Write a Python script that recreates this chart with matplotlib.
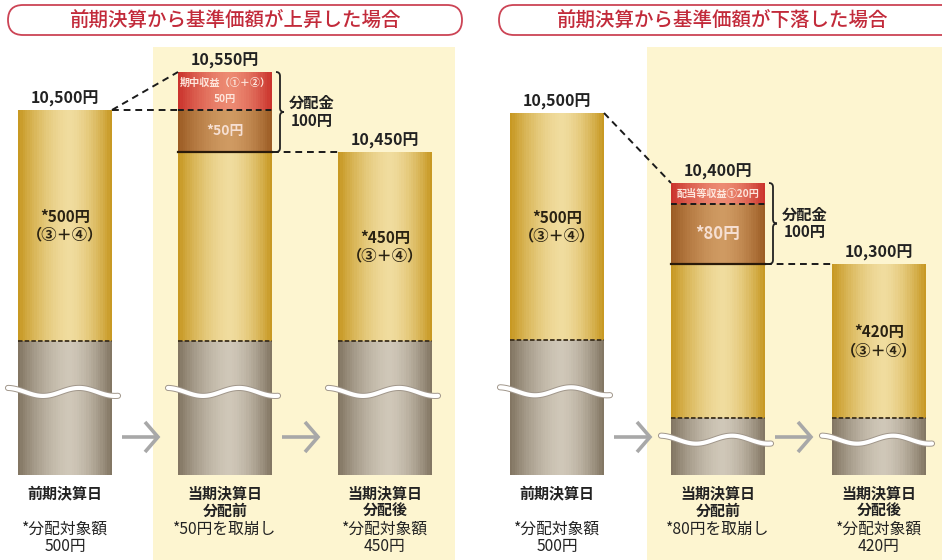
import numpy as np
import matplotlib.pyplot as plt
from matplotlib.patches import FancyBboxPatch, Rectangle, PathPatch
from matplotlib.path import Path
from matplotlib.colors import to_rgb

plt.rcParams['font.family'] = ['Noto Sans CJK JP', 'DejaVu Sans']

# ---- data (yen) ----
titles = ['前期決算から基準価額が上昇した場合', '前期決算から基準価額が下落した場合']
stage_names = [['前期決算日'], ['当期決算日', '分配前'], ['当期決算日', '分配後']]

rise_nav = [10500, 10550, 10450]
rise_gold = [500, 450, 450]      # 分配対象額 (③+④) left in the bar
rise_brown = [0, 50, 0]          # 取崩し
rise_red = [0, 50, 0]            # 期中収益
rise_red_text = ['期中収益（①＋②）', '50円']

fall_nav = [10500, 10400, 10300]
fall_gold = [500, 420, 420]
fall_brown = [0, 80, 0]
fall_red = [0, 20, 0]
fall_red_text = ['配当等収益①20円']

distribution = 100

# ---- layout (pixels) ----
W, H = 942, 560
bar_w = 94
first_center = [65, 557]
step = [160, 161]
bar_bottom_px = 475
# where each distinct yen level sits on the page (schematic, not to scale)
level_px = [[475, 341, 152, 110, 72],
            [475, 418, 340, 264, 204, 183, 113]]
bg_x = [(153, 455), (647, 942)]
pill_x = [(8, 462), (499, 980)]

gold = ('#c6961e', '#f0dc9e')
gray = ('#807360', '#cfc7b8')
brown = ('#9a5a22', '#cf9a62')
red = ('#c9302a', '#ec8a72')
ink = '#222222'

fig = plt.figure(figsize=(W / 100, H / 100), dpi=100)
bg = fig.add_axes([0, 0, 1, 1], zorder=0)
bg.set_xlim(0, W)
bg.set_ylim(H, 0)
bg.axis('off')
top = fig.add_axes([0, 0, 1, 1], zorder=2)
top.set_xlim(0, W)
top.set_ylim(H, 0)
top.axis('off')
top.patch.set_alpha(0)


def grad_bar(ax, xc, bottom, height, cols, n=40):
    xs = np.linspace(xc - bar_w / 2, xc + bar_w / 2, n + 1)
    s = (np.arange(n) + 0.5) / n
    d = np.where(s < 0.55, (0.55 - s) / 0.55, (s - 0.55) / 0.45)
    mix = np.clip(1 - d ** 1.6, 0, 1)
    e, m = np.array(to_rgb(cols[0])), np.array(to_rgb(cols[1]))
    c = e + (m - e) * mix[:, None]
    ax.bar(xs[:-1], height, width=bar_w / n * 1.2, bottom=bottom,
           align='edge', color=c, linewidth=0)


def brace(x0, y0, y1, w=8):
    xm, x1, ym, r = x0 + w / 2, x0 + w, (y0 + y1) / 2, w / 2
    verts = [(x0, y0), (xm, y0), (xm, y0 + r), (xm, ym - r), (xm, ym), (x1, ym),
             (x1, ym), (xm, ym), (xm, ym + r), (xm, y1 - r), (xm, y1), (x0, y1)]
    codes = [Path.MOVETO, Path.CURVE3, Path.CURVE3, Path.LINETO, Path.CURVE3, Path.CURVE3,
             Path.MOVETO, Path.CURVE3, Path.CURVE3, Path.LINETO, Path.CURVE3, Path.CURVE3]
    top.add_patch(PathPatch(Path(verts, codes), fill=False, lw=1.3, ec=ink))


panels = [(rise_nav, rise_gold, rise_brown, rise_red, rise_red_text),
          (fall_nav, fall_gold, fall_brown, fall_red, fall_red_text)]

for p, (nav, gld, brn, rd, red_text) in enumerate(panels):
    nav = np.array(nav)
    gld, brn, rd = np.array(gld), np.array(brn), np.array(rd)
    base = nav - gld - brn - rd
    levels = np.unique(np.concatenate([[0], base, base + gld, base + gld + brn, nav]))
    xv = np.concatenate([[-1e5], levels, [1e6]])
    up = np.concatenate([[0.0], H - np.array(level_px[p], float), [float(H)]])

    def fwd(v, xv=xv, up=up):
        return np.interp(v, xv, up)

    def inv(u, xv=xv, up=up):
        return np.interp(u, up, xv)

    def py(v, xv=xv, up=up):
        return H - np.interp(v, xv, up)

    ax = fig.add_axes([0, 0, 1, 1], zorder=1)
    ax.patch.set_alpha(0)
    ax.set_yscale('function', functions=(fwd, inv))
    ax.set_xlim(0, W)

    # background + header
    bg.add_patch(Rectangle((bg_x[p][0], 47), bg_x[p][1] - bg_x[p][0], H - 47,
                           fc='#fdf5d0', ec='none'))
    x0, x1 = pill_x[p]
    bg.add_patch(FancyBboxPatch((x0, 5), x1 - x0, 30,
                                boxstyle='round,pad=0,rounding_size=15',
                                fc='white', ec='#cc4455', lw=1.3))
    tx = (x0 + x1) / 2 if p == 0 else 722
    bg.text(tx, 20, titles[p], ha='center', va='center', fontsize=14,
            fontweight='medium', color='#c22a3a')

    xc = first_center[p] + step[p] * np.arange(3)
    for i in range(3):
        c = xc[i]
        l, r = c - bar_w / 2, c + bar_w / 2
        grad_bar(ax, c, 0, base[i], gray)
        grad_bar(ax, c, base[i], gld[i], gold)
        if brn[i]:
            grad_bar(ax, c, base[i] + gld[i], brn[i], brown)
        if rd[i]:
            grad_bar(ax, c, base[i] + gld[i] + brn[i], rd[i], red)
        ax.plot([l, r], [base[i]] * 2, ls=(0, (2.5, 1.2)), color='#3b2f1c', lw=1.3)

        # wave break in the grey part
        t_px = py(base[i])
        yc = t_px + 0.38 * (bar_bottom_px - t_px)
        wx = np.linspace(l - 10, r + 6, 120)
        wy = yc + 4 * np.cos(2 * np.pi * (wx - (l + 25)) / 72)
        top.plot(wx, wy, color='#a0968a', lw=4.4, solid_capstyle='round')
        top.plot(wx, wy, color='white', lw=3.0, solid_capstyle='round')

        # value on top
        ax.annotate(f'{nav[i]:,}円', (c, nav[i]), xytext=(0, 2.5),
                    textcoords='offset points', ha='center', va='bottom',
                    fontsize=11.5, fontweight='bold', color=ink)

        # stage names and notes
        slots = [493, 511, 529, 547]
        for k, s in enumerate(stage_names[i]):
            top.text(c, slots[k], s, ha='center', va='center', fontsize=10.8,
                     fontweight='bold', color=ink)
        if brn[i]:
            notes = [f'*{brn[i]}円を取崩し']
        else:
            notes = ['*分配対象額', f'{gld[i]}円']
        for k, s in enumerate(notes):
            top.text(c, slots[2 + k], s, ha='center', va='center', fontsize=11.3,
                     color=ink)

        # gold label
        if not brn[i]:
            m = inv((fwd(base[i]) + fwd(base[i] + gld[i])) / 2)
            ax.text(c, m, f'*{gld[i]}円\n（③＋④）', ha='center', va='center',
                    fontsize=11, fontweight='bold', color='#2a2212', linespacing=1.15)

        # arrow to next bar
        if i < 2:
            a0, a1, ay = r + 10, r + 46, 437
            top.plot([a0, a1 - 1], [ay, ay], color='#a8a8a8', lw=2.6,
                     solid_capstyle='butt')
            top.plot([a1 - 13, a1, a1 - 13], [ay - 15, ay, ay + 15], color='#a8a8a8',
                     lw=2.6, solid_joinstyle='miter', solid_capstyle='butt')

    # middle bar details
    c = xc[1]
    l, r = c - bar_w / 2, c + bar_w / 2
    g_top = base[1] + gld[1]
    b_top = g_top + brn[1]
    ax.plot([l, r], [g_top] * 2, color='#2a1a0a', lw=1.6)
    ax.plot([l, r], [b_top] * 2, ls=(0, (3, 2)), color='#1a1a1a', lw=1.4)
    dash = (0, (3.5, 2.5))
    top.plot([xc[0] + bar_w / 2, l], [py(nav[0]), py(nav[1])], ls=dash, color='#1a1a1a', lw=1.4)
    if nav[1] > nav[0]:
        top.plot([xc[0] + bar_w / 2, l], [py(nav[0])] * 2, ls=dash, color='#1a1a1a', lw=1.4)
    top.plot([r, xc[2] - bar_w / 2], [py(g_top)] * 2, ls=dash, color='#1a1a1a', lw=1.4)

    # texts in red / brown segments
    r_mid = inv((fwd(b_top) + fwd(nav[1])) / 2)
    ax.text(c, r_mid, '\n'.join(red_text), ha='center', va='center', fontsize=7.3,
            fontweight='bold', color='#fde6dc', linespacing=1.8)
    b_mid = inv((fwd(g_top) + fwd(b_top)) / 2)
    ax.text(c, b_mid, f'*{brn[1]}円', ha='center', va='center',
            fontsize=10 if p == 0 else 12, fontweight='bold', color='#f6dfd2')

    # brace for the distribution
    brace(r + 4, py(nav[1]), py(g_top))
    top.text(r + 40, (py(nav[1]) + py(g_top)) / 2, f'分配金\n{distribution}円',
             ha='center', va='center', fontsize=11, fontweight='bold', color=ink,
             linespacing=1.15)

    ax.set_autoscale_on(False)
    ax.set_ylim(xv[0], xv[-1])
    ax.axis('off')

fig.savefig('out.png', dpi=100)
